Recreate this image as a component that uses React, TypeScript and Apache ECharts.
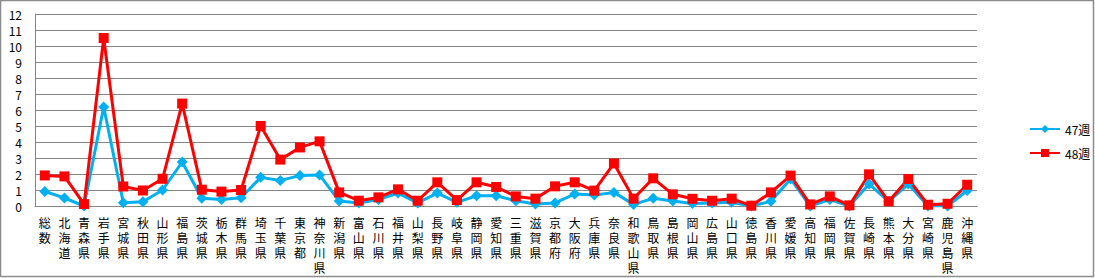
import React, { useEffect, useRef } from "react";
import * as echarts from "echarts";

const categories = [
  "総数", "北海道", "青森県", "岩手県", "宮城県", "秋田県", "山形県", "福島県",
  "茨城県", "栃木県", "群馬県", "埼玉県", "千葉県", "東京都", "神奈川県",
  "新潟県", "富山県", "石川県", "福井県", "山梨県", "長野県", "岐阜県",
  "静岡県", "愛知県", "三重県", "滋賀県", "京都府", "大阪府", "兵庫県",
  "奈良県", "和歌山県", "鳥取県", "島根県", "岡山県", "広島県", "山口県",
  "徳島県", "香川県", "愛媛県", "高知県", "福岡県", "佐賀県", "長崎県",
  "熊本県", "大分県", "宮崎県", "鹿児島県", "沖縄県",
];

const week47 = [
  0.91, 0.5, 0.0, 6.19, 0.2, 0.27, 1.0, 2.75,
  0.48, 0.4, 0.52, 1.79, 1.6, 1.9, 1.94,
  0.31, 0.19, 0.4, 0.81, 0.19, 0.81, 0.23,
  0.64, 0.64, 0.33, 0.12, 0.19, 0.75, 0.68,
  0.85, 0.1, 0.48, 0.31, 0.16, 0.19, 0.23,
  0.0, 0.29, 1.69, 0.0, 0.4, 0.0, 1.37,
  0.29, 1.37, 0.0, 0.0, 0.97,
];

const week48 = [
  1.91, 1.85, 0.12, 10.5, 1.22, 0.97, 1.7, 6.4,
  1.02, 0.9, 1.0, 5.0, 2.9, 3.66, 4.04,
  0.85, 0.33, 0.54, 1.04, 0.33, 1.48, 0.37,
  1.48, 1.19, 0.6, 0.46, 1.23, 1.48, 0.96,
  2.66, 0.46, 1.73, 0.73, 0.45, 0.33, 0.46,
  0.02, 0.85, 1.9, 0.1, 0.6, 0.04, 1.98,
  0.29, 1.69, 0.08, 0.14, 1.33,
];

const seriesNames = ["47週", "48週"];

export default function App() {
  const ref = useRef<HTMLDivElement>(null);

  useEffect(() => {
    document.body.style.margin = "0";
    if (!ref.current) return;
    const chart = echarts.init(ref.current, null, { renderer: "svg" });
    const font = '"Noto Sans CJK JP", sans-serif';
    chart.setOption({
      animation: false,
      textStyle: { fontFamily: font },
      graphic: [
        {
          type: "rect",
          shape: { x: 0.5, y: 0.5, width: 1093, height: 276 },
          style: { fill: "none", stroke: "#8c8c8c", lineWidth: 1.5 },
          silent: true,
        },
      ],
      grid: { left: 35, right: 118, top: 14, bottom: 72 },
      legend: {
        orient: "vertical",
        left: 1024,
        top: 118,
        itemWidth: 30,
        itemHeight: 10,
        itemGap: 12,
        textStyle: { fontSize: 12, color: "#000", fontFamily: font },
        data: seriesNames,
      },
      xAxis: {
        type: "category",
        data: categories,
        boundaryGap: true,
        axisLine: { show: true, lineStyle: { color: "#868686", width: 1 } },
        axisTick: { show: false },
        axisLabel: {
          interval: 0,
          color: "#000",
          fontSize: 12,
          lineHeight: 15,
          margin: 9,
          fontFamily: font,
          formatter: (v: string) => v.split("").join("\n"),
        },
      },
      yAxis: {
        type: "value",
        min: 0,
        max: 12,
        interval: 1,
        axisLine: { show: true, lineStyle: { color: "#868686", width: 1 } },
        axisTick: { show: false },
        axisLabel: { color: "#000", fontSize: 12, margin: 13, fontFamily: font },
        splitLine: { show: true, lineStyle: { color: "#868686", width: 1 } },
      },
      series: [
        {
          name: seriesNames[0],
          type: "line",
          data: week47,
          symbol: "diamond",
          symbolSize: 11,
          color: "#00b0f0",
          lineStyle: { width: 3, color: "#00b0f0" },
          itemStyle: { color: "#00b0f0" },
        },
        {
          name: seriesNames[1],
          type: "line",
          data: week48,
          symbol: "rect",
          symbolSize: 10,
          color: "#ff0000",
          lineStyle: { width: 3, color: "#ff0000" },
          itemStyle: { color: "#ff0000" },
        },
      ],
    });
    return () => chart.dispose();
  }, []);

  return <div ref={ref} style={{ width: 1095, height: 278 }} />;
}
